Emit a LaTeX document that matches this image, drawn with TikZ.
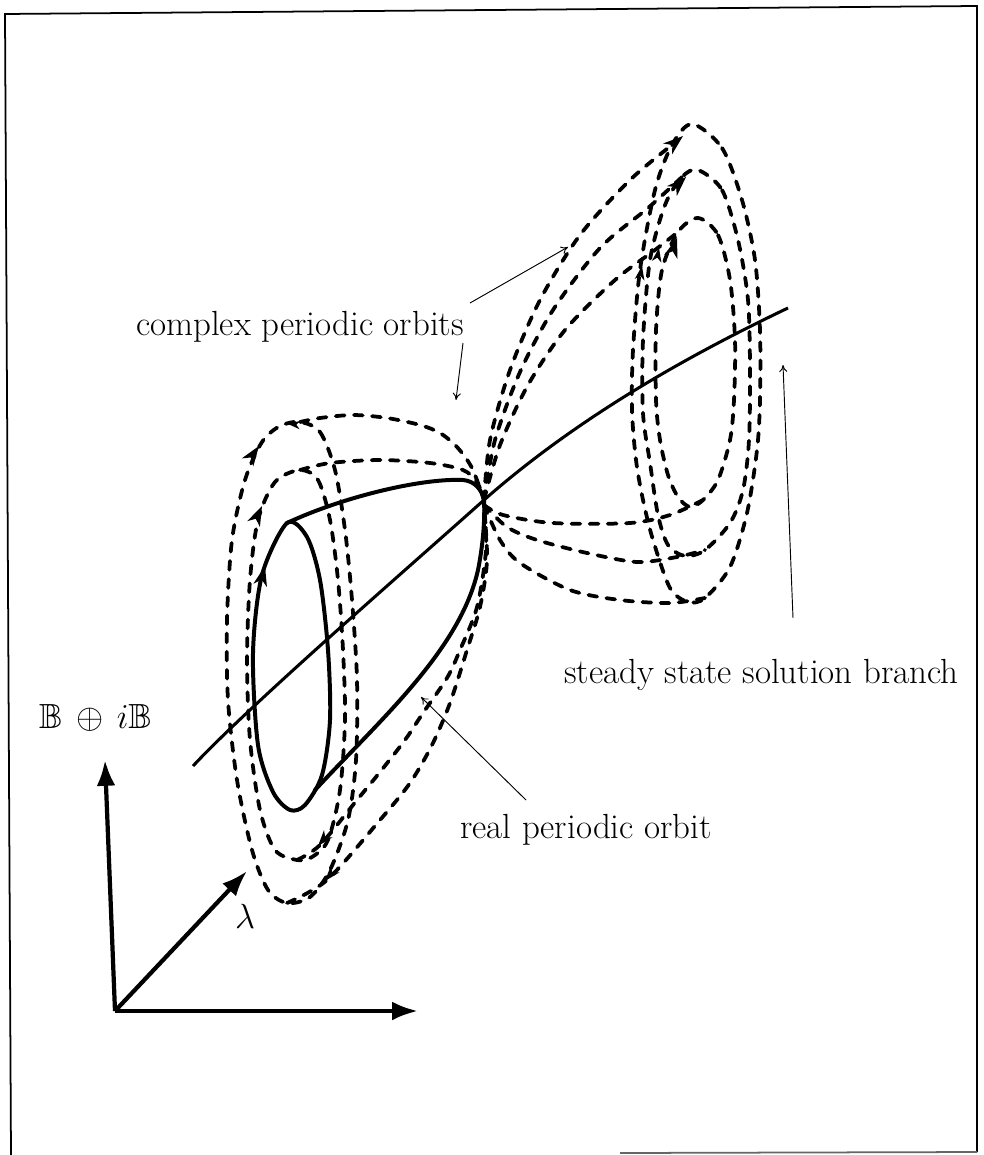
\RequirePackage{fix-cm}
\documentclass[tikz,border=0pt]{standalone}
\usepackage{amssymb}
\usepackage{fontspec}
\usetikzlibrary{arrows.meta}
\newcommand\ahead[4][1]{\fill[shift={(#2,#3)}, rotate=#4, scale=#1] (0,0) -- (-20,7) -- (-14,0) -- (-20,-7) -- cycle;}
\begin{document}
\begin{tikzpicture}[x=0.03cm,y=-0.03cm,
  dsh/.style={line width=3.2pt, dash pattern=on 7.5pt off 8pt, line cap=round},
  sol/.style={line width=3.4pt, line cap=round, line join=round},
  br/.style={line width=2.6pt},
  ax/.style={line width=3.6pt, -{Latex[length=22pt,width=16pt]}},
  lead/.style={line width=0.8pt, -{To[length=6pt,width=7pt]}},
  lab/.style={font=\fontsize{29.8}{36}\selectfont, inner sep=0pt},
  fr/.style={line width=1.5pt}]
\useasboundingbox (0,0) rectangle (983,1155);
% frame
\draw[fr] (11,1155) -- (5,14) -- (977,6) -- (977,1152);
\draw[fr, black!60] (620,1153) -- (977,1152);

\coordinate (C) at (484,500);

% steady state branch
\draw[br] (193,766) .. controls (250,705) and (400,575) .. (C) .. controls (584,412) and (700,350) .. (788,308);

% real periodic orbit (solid)
\draw[sol] plot[smooth cycle] coordinates {(287,523) (307,537) (320,580) (328,650) (330,720) (322,775) (305,805) (290,810) (273,792) (258,745) (253,653) (262,575)};
\draw[sol] (287,523) .. controls (340,498) and (420,478) .. (463,480) .. controls (475,481) and (482,490) .. (C);
\draw[sol] (315,790) .. controls (380,720) and (460,650) .. (478,570) .. controls (483,545) and (485,520) .. (C);

% right complex orbits
\draw[dsh] plot[smooth cycle] coordinates {(692,124) (722,148) (742,200) (755,260) (760,330) (760,400) (757,450) (747,513) (730,567) (705,598) (688,602) (670,588) (653,540) (643,500) (636,460) (632,410) (633,350) (640,270) (655,190) (672,145)};
\draw[dsh] plot[smooth cycle] coordinates {(698,170) (722,190) (738,240) (748,300) (750,370) (749,440) (743,490) (730,523) (705,550) (685,556) (668,545) (658,515) (650,463) (643,413) (643,340) (650,260) (665,205) (682,177)};
\draw[dsh] plot[smooth cycle] coordinates {(698,218) (718,235) (730,280) (735,340) (734,400) (730,440) (718,480) (703,500) (690,507) (678,497) (668,475) (660,440) (656,400) (656,330) (662,270) (678,232)};
\draw[dsh] plot[smooth] coordinates {(484,500) (490,440) (510,370) (540,300) (580,235) (630,180) (672,145)};
\draw[dsh] plot[smooth] coordinates {(484,500) (495,440) (520,372) (553,310) (600,248) (648,208) (682,177)};
\draw[dsh] plot[smooth] coordinates {(484,500) (500,445) (528,385) (565,330) (615,280) (655,250) (678,232)};
\draw[dsh] plot[smooth] coordinates {(484,505) (503,515) (553,523) (630,523) (670,515) (703,500)};
\draw[dsh] plot[smooth] coordinates {(484,505) (507,527) (537,540) (587,553) (637,562) (677,557) (705,550)};
\draw[dsh] plot[smooth] coordinates {(484,505) (500,540) (520,563) (570,590) (620,600) (670,603) (705,598)};

% left complex orbits
\draw[dsh] plot[smooth cycle] coordinates {(300,422) (320,432) (335,470) (345,530) (352,600) (357,680) (356,760) (348,820) (330,870) (310,897) (287,903) (268,890) (252,850) (237,780) (228,700) (227,620) (232,540) (245,480) (262,442) (280,426)};
\draw[dsh] plot[smooth cycle] coordinates {(300,470) (318,480) (330,520) (338,580) (343,650) (345,720) (340,790) (328,840) (312,857) (297,860) (275,850) (260,810) (250,740) (247,660) (250,580) (258,520) (275,482)};
\draw[dsh] plot[smooth] coordinates {(300,422) (320,418) (353,415) (387,418) (420,425) (440,433) (457,447) (472,468) (484,500)};
\draw[dsh] plot[smooth] coordinates {(300,470) (330,463) (380,460) (430,463) (463,470) (477,482) (484,500)};
\draw[dsh] plot[smooth] coordinates {(297,860) (320,845) (357,800) (380,772) (405,740) (423,713) (447,678) (460,650) (477,607) (486,550) (484,505)};
\draw[dsh] plot[smooth] coordinates {(287,903) (327,880) (380,820) (410,783) (432,745) (450,703) (467,650) (480,607) (487,560) (484,505)};

% arrowheads on orbits
\ahead{265}{566}{76}
\ahead{262}{506}{65}
\ahead{259}{446}{55}
\ahead[0.6]{288}{424}{175}
\ahead[0.8]{318}{846}{230}
\ahead[0.8]{325}{881}{230}
\ahead{683}{136}{40}
\ahead{686}{177}{45}
\ahead{677}{238}{72}
\ahead[0.7]{659}{248}{80}
\ahead[0.7]{642}{266}{80}

% axes
\coordinate (O) at (115,1011);
\coordinate (Yt) at (105,760);
\coordinate (Xt) at (418,1011);
\coordinate (Lt) at (247,871);
\draw[ax] (O) -- (Yt);
\draw[ax] (O) -- (Xt);
\draw[ax] (O) -- (Lt);

% labels
\node[lab, anchor=base west] (cpo) at (136,335) {complex periodic orbits};
\node[lab, anchor=base west] (ssb) at (564,683) {steady state solution branch};
\node[lab, anchor=base west] (rpo) at (460,838) {real periodic orbit};
\node[lab, anchor=base east] (bib) at (152,728) {$\mathbb{B}\mathbin{\,\oplus\,}i\mathbb{B}$};
\node[lab] (lam) at (245,916) {$\lambda$};

% leaders
\coordinate (l1s) at (470,303); \coordinate (l1e) at (568,247);
\coordinate (l2s) at (463,343); \coordinate (l2e) at (456,400);
\coordinate (l3s) at (793,618); \coordinate (l3e) at (783,365);
\coordinate (l4s) at (526,800); \coordinate (l4e) at (421,697);
\draw[lead] (l1s) -- (l1e);
\draw[lead] (l2s) -- (l2e);
\draw[lead] (l3s) -- (l3e);
\draw[lead] (l4s) -- (l4e);
\end{tikzpicture}
\end{document}
